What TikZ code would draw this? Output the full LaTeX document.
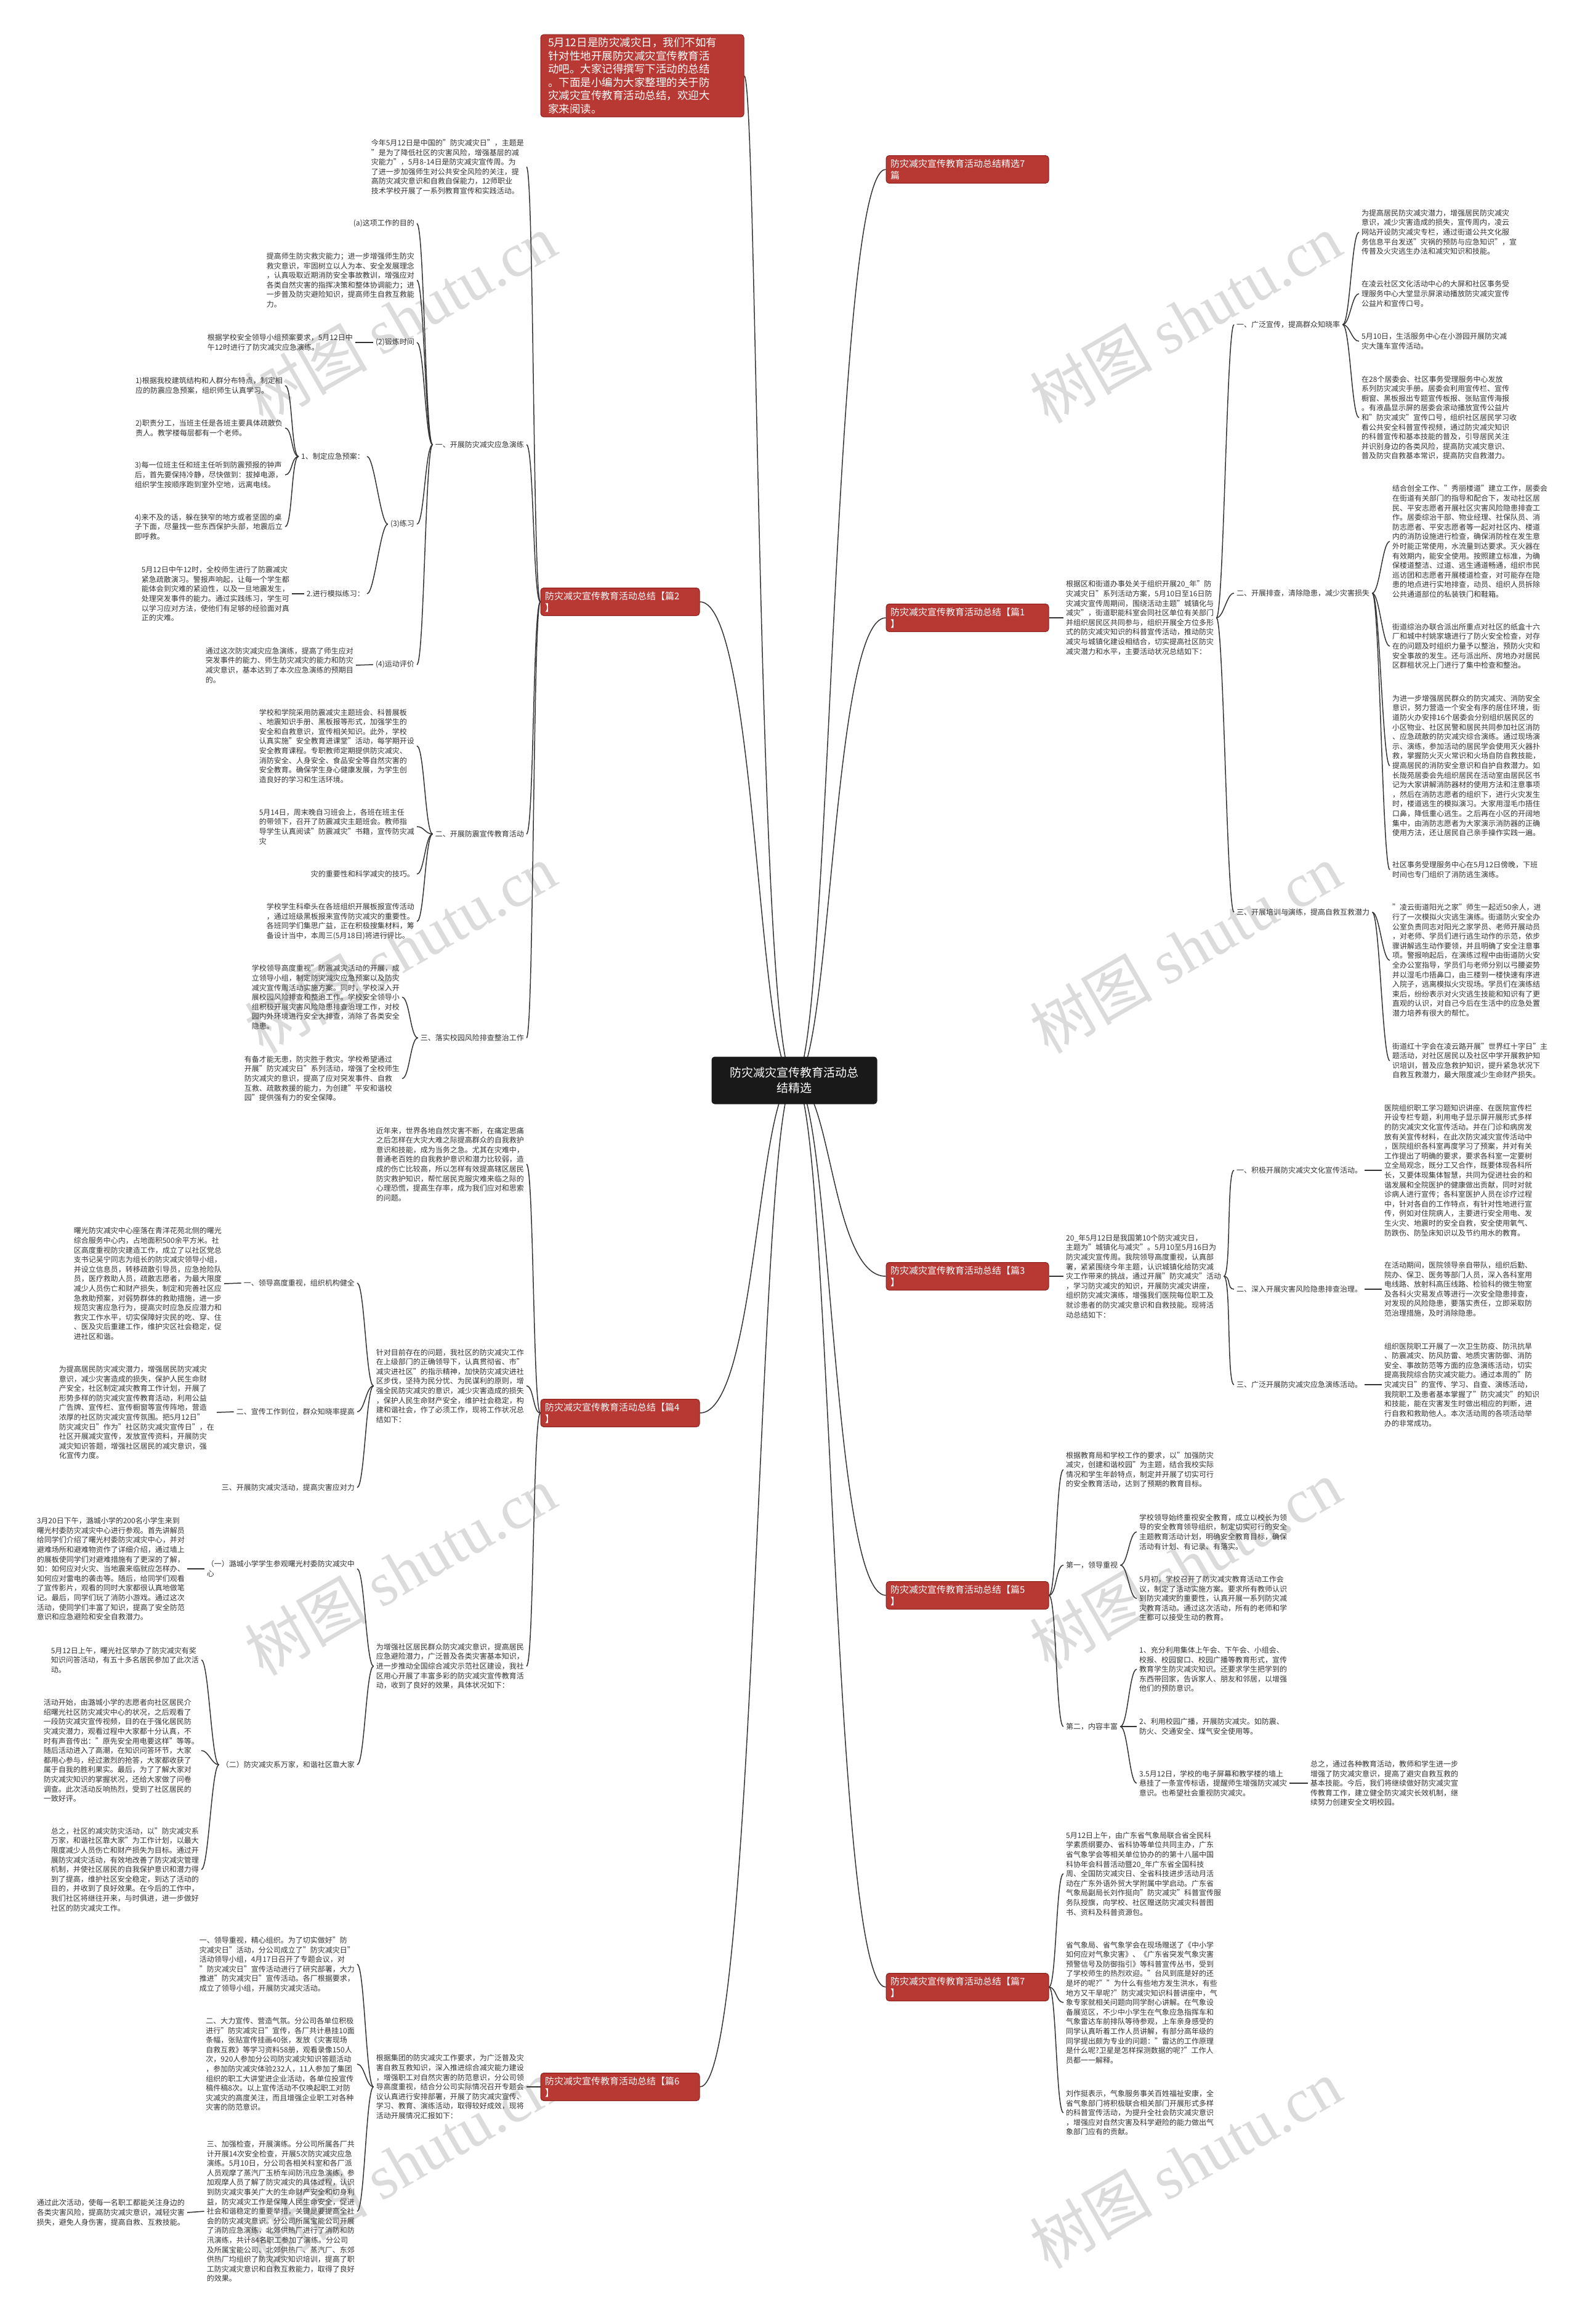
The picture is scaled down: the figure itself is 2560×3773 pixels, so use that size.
\documentclass[tikz,border=0pt]{standalone}
\usepackage{fontspec}
\setmainfont{Noto Sans CJK SC}
\newfontfamily\wmlatin{Liberation Serif}
\usepackage{tikz}
\usetikzlibrary{calc,backgrounds}
\definecolor{inkgray}{rgb}{0.2,0.2,0.2}
\definecolor{topicred}{rgb}{0.72,0.22,0.20}
\definecolor{topicedge}{rgb}{0.55,0.12,0.10}
\definecolor{hubblack}{rgb}{0.1,0.1,0.1}
\definecolor{wmgray}{rgb}{0.86,0.86,0.86}
\tikzset{
  txt/.style   ={font=\fontsize{12}{15.6}\selectfont, text=inkgray, align=left,
                 inner xsep=4pt, inner ysep=1pt},
  lft/.style   ={txt, anchor=east},
  rgt/.style   ={txt, anchor=west},
  branch/.style={rectangle, rounded corners=5pt, draw=topicedge, line width=1pt,
                 fill=topicred, text=white, align=left,
                 font=\fontsize{15}{19}\selectfont, inner xsep=7pt, inner ysep=6pt},
  hub/.style   ={rectangle, rounded corners=5pt, fill=hubblack, text=white,
                 align=center, font=\fontsize{19}{25}\selectfont,
                 minimum width=269pt, minimum height=77pt},
  wmark/.style ={text=wmgray, font=\fontsize{100}{100}\selectfont, rotate=30},
  link/.style  ={draw=inkgray, line width=1.5pt},
  stemL/.style ={to path={.. controls +(-12,0) and +(12,0) .. (\tikztotarget)}},
  stemR/.style ={to path={.. controls +(12,0) and +(-12,0) .. (\tikztotarget)}},
  hubL/.style  ={to path={.. controls ($(\tikztostart)+(-60,0)$) and ($(\tikztostart|-\tikztotarget)+(-60,0)$) .. (\tikztotarget)}},
  hubR/.style  ={to path={.. controls ($(\tikztostart)+(60,0)$) and ($(\tikztostart|-\tikztotarget)+(60,0)$) .. (\tikztotarget)}},
}

\begin{document}
\begin{tikzpicture}[x=1pt, y=-1pt]
  \useasboundingbox (0,0) rectangle (2560,3773);

  % centre and main topics
  \node[hub] (hub) at (1290,1754) {防灾减灾宣传教育活动总\\结精选};
  \node[branch, text width=306pt, inner xsep=12pt, inner ysep=5pt,
        font=\fontsize{17.5}{21.5}\selectfont] (intro) at (1043,123)
    {5月12日是防灾减灾日，我们不如有\\针对性地开展防灾减灾宣传教育活\\动吧。大家记得撰写下活动的总结\\。下面是小编为大家整理的关于防\\灾减灾宣传教育活动总结，欢迎大\\家来阅读。};
  \node[branch, text width=244pt] (p2) at (1007,977)  {防灾减灾宣传教育活动总结【篇2\\】};
  \node[branch, text width=244pt] (p4) at (1007,2294) {防灾减灾宣传教育活动总结【篇4\\】};
  \node[branch, text width=244pt] (p6) at (1007,3388) {防灾减灾宣传教育活动总结【篇6\\】};
  \node[branch, text width=250pt] (p0) at (1571,275)  {防灾减灾宣传教育活动总结精选7\\篇};
  \node[branch, text width=250pt] (p1) at (1571,1003) {防灾减灾宣传教育活动总结【篇1\\】};
  \node[branch, text width=250pt] (p3) at (1571,2072) {防灾减灾宣传教育活动总结【篇3\\】};
  \node[branch, text width=250pt] (p5) at (1571,2590) {防灾减灾宣传教育活动总结【篇5\\】};
  \node[branch, text width=250pt] (p7) at (1571,3226) {防灾减灾宣传教育活动总结【篇7\\】};

  % ---- 篇2
  \node[lft] (k2a) at (855,271) {今年5月12日是中国的"防灾减灾日"，主题是\\"是为了降低社区的灾害风险，增强基层的减\\灾能力"，5月8-14日是防灾减灾宣传周。为\\了进一步加强师生对公共安全风险的关注，提\\高防灾减灾意识和自救自保能力，12师职业\\技术学校开展了一系列教育宣传和实践活动。};
  \node[lft] (k2one)   at (855,722)  {一、开展防灾减灾应急演练};
  \node[lft] (k2two)   at (855,1354) {二、开展防震宣传教育活动};
  \node[lft] (k2three) at (855,1685) {三、落实校园风险排查整治工作};
  \node[lft] (aim)       at (677,363) {(a)这项工作的目的};
  \node[lft] (aimtxt)    at (677,455) {提高师生防灾救灾能力；进一步增强师生防灾\\救灾意识，牢固树立以人为本、安全发展理念\\，认真吸取近期消防安全事故教训，增强应对\\各类自然灾害的指挥决策和整体协调能力；进\\一步普及防灾避险知识，提高师生自救互救能\\力。};
  \node[lft] (drilltime) at (677,556) {(2)锻炼时间};
  \node[lft] (drilltimetxt) at (577,556) {根据学校安全领导小组预案要求，5月12日中\\午12时进行了防灾减灾应急演练。};
  \node[lft] (practice)  at (677,851) {(3)练习};
  \node[lft] (review)    at (677,1079) {(4)运动评价};
  \node[lft] (reviewtxt) at (578,1080) {通过这次防灾减灾应急演练，提高了师生应对\\突发事件的能力、师生防灾减灾的能力和防灾\\减灾意识，基本达到了本次应急演练的预期目\\的。};
  \node[lft] (plan) at (596,741) {1、制定应急预案：};
  \node[lft] (sim)  at (596,964) {2.进行模拟练习：};
  \node[lft] (plan1) at (463,626) {1)根据我校建筑结构和人群分布特点，制定相\\应的防震应急预案，组织师生认真学习。};
  \node[lft] (plan2) at (463,695) {2)职责分工，当班主任是各班主要具体疏散负\\责人。教学楼每层都有一个老师。};
  \node[lft] (plan3) at (463,771) {3)每一位班主任和班主任听到防震预报的钟声\\后，首先要保持冷静，尽快做到：拔掉电源，\\组织学生按顺序跑到室外空地，远离电线。};
  \node[lft] (plan4) at (463,855) {4)来不及的话，躲在狭窄的地方或者坚固的桌\\子下面，尽量找一些东西保护头部，地震后立\\即呼救。};
  \node[lft] (simtxt) at (474,964) {5月12日中午12时，全校师生进行了防震减灾\\紧急疏散演习。警报声响起，让每一个学生都\\能体会到灾难的紧迫性，以及一旦地震发生，\\处理突发事件的能力。通过实践练习，学生可\\以学习应对方法，使他们有足够的经验面对真\\正的灾难。};
  \node[lft] (prop1) at (677,1211) {学校和学院采用防震减灾主题班会、科普展板\\、地震知识手册、黑板报等形式，加强学生的\\安全和自救意识，宣传相关知识。此外，学校\\认真实施"安全教育进课堂"活动，每学期开设\\安全教育课程。专职教师定期提供防灾减灾、\\消防安全、人身安全、食品安全等自然灾害的\\安全教育。确保学生身心健康发展，为学生创\\造良好的学习和生活环境。};
  \node[lft] (prop2) at (677,1342) {5月14日，周末晚自习班会上，各班在班主任\\的带领下，召开了防震减灾主题班会。教师指\\导学生认真阅读"防震减灾"书籍，宣传防灾减\\灾};
  \node[lft] (prop3) at (677,1419) {灾的重要性和科学减灾的技巧。};
  \node[lft] (prop4) at (677,1496) {学校学生科牵头在各班组织开展板报宣传活动\\，通过班级黑板报来宣传防灾减灾的重要性。\\各班同学们集思广益，正在积极搜集材料，筹\\备设计当中，本周三(5月18日)将进行评比。};
  \node[lft] (risk1) at (653,1619) {学校领导高度重视"防震减灾活动的开展，成\\立领导小组，制定防灾减灾应急预案以及防灾\\减灾宣传周活动实施方案。同时，学校深入开\\展校园风险排查和整治工作。学校安全领导小\\组积极开展灾害风险隐患排查治理工作，对校\\园内外环境进行安全大排查，消除了各类安全\\隐患。};
  \node[lft] (risk2) at (653,1751) {有备才能无患，防灾胜于救灾。学校希望通过\\开展"防灾减灾日"系列活动，增强了全校师生\\防灾减灾的意识，提高了应对突发事件、自救\\互救、疏散救援的能力，为创建"平安和谐校\\园"提供强有力的安全保障。};

  % ---- 篇4
  \node[lft] (k4a) at (855,1890) {近年来，世界各地自然灾害不断，在痛定思痛\\之后怎样在大灾大难之际提高群众的自我救护\\意识和技能，成为当务之急。尤其在灾难中，\\普通老百姓的自我救护意识和潜力比较弱，造\\成的伤亡比较高，所以怎样有效提高辖区居民\\防灾救护知识，帮忙居民克服灾难来临之际的\\心理恐慌，提高生存率，成为我们应对和思索\\的问题。};
  \node[lft] (k4b) at (855,2250) {针对目前存在的问题，我社区的防灾减灾工作\\在上级部门的正确领导下，认真贯彻省、市"\\减灾进社区"的指示精神，加快防灾减灾进社\\区步伐，坚持为民分忧、为民谋利的原则，增\\强全民防灾减灾的意识，减少灾害造成的损失\\，保护人民生命财产安全，维护社会稳定，构\\建和谐社会，作了必须工作，现将工作状况总\\结如下：};
  \node[lft] (k4c) at (855,2705) {为增强社区居民群众防灾减灾意识，提高居民\\应急避险潜力，广泛普及各类灾害基本知识，\\进一步推动全国综合减灾示范社区建设，我社\\区用心开展了丰富多彩的防灾减灾宣传教育活\\动，收到了良好的效果，具体状况如下：};
  \node[lft] (lead)  at (580,2083) {一、领导高度重视，组织机构健全};
  \node[lft] (leadtxt) at (364,2084) {曙光防灾减灾中心座落在青洋花苑北侧的曙光\\综合服务中心内，占地面积500余平方米。社\\区高度重视防灾建造工作，成立了以社区党总\\支书记吴宁同志为组长的防灾减灾领导小组，\\并设立信息员，转移疏散引导员，应急抢险队\\员，医疗救助人员，疏散志愿者，为最大限度\\减少人员伤亡和财产损失，制定和完善社区应\\急救助预案，对弱势群体的救助措施，进一步\\规范灾害应急行为，提高灾时应急反应潜力和\\救灾工作水平，切实保障好灾民的吃、穿、住\\、医及灾后重建工作，维护灾区社会稳定，促\\进社区和谐。};
  \node[lft] (promo) at (580,2292) {二、宣传工作到位，群众知晓率提高};
  \node[lft] (promotxt) at (352,2293) {为提高居民防灾减灾潜力，增强居民防灾减灾\\意识，减少灾害造成的损失，保护人民生命财\\产安全，社区制定减灾教育工作计划，开展了\\形势多样的防灾减灾宣传教育活动，利用公益\\广告牌、宣传栏、宣传橱窗等宣传阵地，营造\\浓厚的社区防灾减灾宣传氛围。把5月12日"\\防灾减灾日"作为"社区防灾减灾宣传日"，在\\社区开展减灾宣传，发放宣传资料，开展防灾\\减灾知识答题，增强社区居民的减灾意识，强\\化宣传力度。};
  \node[lft] (act)   at (580,2415) {三、开展防灾减灾活动，提高灾害应对力};
  \node[lft] (visit) at (580,2547) {（一）潞城小学学生参观曙光村委防灾减灾中\\心};
  \node[lft] (visittxt) at (304,2547) {3月20日下午，潞城小学的200名小学生来到\\曙光村委防灾减灾中心进行参观。首先讲解员\\给同学们介绍了曙光村委防灾减灾中心，并对\\避难场所和避难物资作了详细介绍，通过墙上\\的展板使同学们对避难措施有了更深的了解，\\如：如何应对火灾、当地震来临就应怎样办、\\如何应对雷电的袭击等。随后，给同学们观看\\了宣传影片，观看的同时大家都很认真地做笔\\记。最后，同学们玩了消防小游戏。通过这次\\活动，使同学们丰富了知识，提高了安全防范\\意识和应急避险和安全自救潜力。};
  \node[lft] (family) at (580,2865) {（二）防灾减灾系万家，和谐社区靠大家};
  \node[lft] (quiz)    at (327,2695) {5月12日上午，曙光社区举办了防灾减灾有奖\\知识问答活动，有五十多名居民参加了此次活\\动。};
  \node[lft] (quizrun) at (327,2842) {活动开始，由潞城小学的志愿者向社区居民介\\绍曙光社区防灾减灾中心的状况，之后观看了\\一段防灾减灾宣传视频，目的在于强化居民防\\灾减灾潜力，观看过程中大家都十分认真，不\\时有声音传出："原先安全用电要这样"等等。\\随后活动进入了高潮，在知识问答环节，大家\\都用心参与，经过激烈的抢答，大家都收获了\\属于自我的胜利果实。最后，为了了解大家对\\防灾减灾知识的掌握状况，还给大家做了问卷\\调查。此次活动反响热烈，受到了社区居民的\\一致好评。};
  \node[lft] (sumup)   at (327,3035) {总之，社区的减灾防灾活动，以"防灾减灾系\\万家，和谐社区靠大家"为工作计划，以最大\\限度减少人员伤亡和财产损失为目标。通过开\\展防灾减灾活动，有效地改善了防灾减灾管理\\机制，并使社区居民的自我保护意识和潜力得\\到了提高，维护社区安全稳定，到达了活动的\\目的，并收到了良好效果。在今后的工作中，\\我们社区将继往开来，与时俱进，进一步做好\\社区的防灾减灾工作。};

  % ---- 篇6
  \node[lft] (k6a) at (855,3388) {根据集团的防灾减灾工作要求，为广泛普及灾\\害自救互救知识，深入推进综合减灾能力建设\\，增强职工对自然灾害的防范意识，分公司领\\导高度重视，结合分公司实际情况召开专题会\\议认真进行安排部署，开展了防灾减灾宣传、\\学习、教育、演练活动，取得较好成效，现将\\活动开展情况汇报如下：};
  \node[lft] (org) at (580,3189) {一、领导重视，精心组织。为了切实做好"防\\灾减灾日"活动，分公司成立了"防灾减灾日"\\活动领导小组，4月17日召开了专题会议，对\\"防灾减灾日"宣传活动进行了研究部署，大力\\推进"防灾减灾日"宣传活动。各厂根据要求，\\成立了领导小组，开展防灾减灾活动。};
  \node[lft] (pub) at (580,3351) {二、大力宣传、营造气氛。分公司各单位积极\\进行"防灾减灾日"宣传，各厂共计悬挂10面\\条幅，张贴宣传挂画40张，发放《灾害现场\\自救互救》等学习资料58册，观看录像150人\\次，920人参加分公司防灾减灾知识答题活动\\，参加防灾减灾体验232人，11人参加了集团\\组织的职工大讲堂进企业活动，各单位投宣传\\稿件稿8次。以上宣传活动不仅唤起职工对防\\灾减灾的高度关注，而且增强企业职工对各种\\灾害的防范意识。};
  \node[lft] (check) at (580,3590) {三、加强检查，开展演练。分公司所属各厂共\\计开展14次安全检查，开展5次防灾减灾应急\\演练。5月10日，分公司各相关科室和各厂派\\人员观摩了蒸汽厂玉桥车间防汛应急演练，参\\加观摩人员了解了防灾减灾的具体过程，认识\\到防灾减灾事关广大的生命财产安全和切身利\\益，防灾减灾工作是保障人民生命安全，促进\\社会和谐稳定的重要举措，关键是要提高全社\\会的防灾减灾意识。分公司所属宝能公司开展\\了消防应急演练，北郊供热厂进行了消防和防\\汛演练，共计84名职工参加了演练。分公司\\及所属宝能公司、北郊供热厂、蒸汽厂、东郊\\供热厂均组织了防灾减灾知识培训，提高了职\\工防灾减灾意识和自救互救能力，取得了良好\\的效果。};
  \node[lft] (checktxt) at (304,3592) {通过此次活动，使每一名职工都能关注身边的\\各类灾害风险，提高防灾减灾意识，减轻灾害\\损失，避免人身伤害，提高自救、互救技能。};

  % ---- 篇1
  \node[rgt] (k1a) at (1727,1003) {根据区和街道办事处关于组织开展20\_年"防\\灾减灾日"系列活动方案，5月10日至16日防\\灾减灾宣传周期间，围绕活动主题"城镇化与\\减灾"，街道职能科室会同社区单位有关部门\\并组织居民区共同参与，组织开展全方位多形\\式的防灾减灾知识的科普宣传活动，推动防灾\\减灾与城镇化建设相结合，切实提高社区防灾\\减灾潜力和水平，主要活动状况总结如下：};
  \node[rgt] (wide)  at (2004,527)  {一、广泛宣传，提高群众知晓率};
  \node[rgt] (scan)  at (2004,963)  {二、开展排查，清除隐患，减少灾害损失};
  \node[rgt] (train) at (2004,1481) {三、开展培训与演练，提高自救互救潜力};
  \node[rgt] (wide1) at (2207,377) {为提高居民防灾减灾潜力，增强居民防灾减灾\\意识，减少灾害造成的损失，宣传周内，凌云\\网站开设防灾减灾专栏，通过街道公共文化服\\务信息平台发送"灾祸的预防与应急知识"，宣\\传普及火灾逃生办法和减灾知识和技能。};
  \node[rgt] (wide2) at (2207,477) {在凌云社区文化活动中心的大屏和社区事务受\\理服务中心大堂显示屏滚动播放防灾减灾宣传\\公益片和宣传口号。};
  \node[rgt] (wide3) at (2207,554) {5月10日，生活服务中心在小游园开展防灾减\\灾大篷车宣传活动。};
  \node[rgt] (wide4) at (2207,678) {在28个居委会、社区事务受理服务中心发放\\系列防灾减灾手册。居委会利用宣传栏、宣传\\橱窗、黑板报出专题宣传板报、张贴宣传海报\\。有液晶显示屏的居委会滚动播放宣传公益片\\和"防灾减灾"宣传口号，组织社区居民学习收\\看公共安全科普宣传视频，通过防灾减灾知识\\的科普宣传和基本技能的普及，引导居民关注\\并识别身边的各类风险，提高防灾减灾意识、\\普及防灾自救基本常识，提高防灾自救潜力。};
  \node[rgt] (scan1) at (2257,879) {结合创全工作、"秀丽楼道"建立工作，居委会\\在街道有关部门的指导和配合下，发动社区居\\民、平安志愿者开展社区灾害风险隐患排查工\\作。居委综治干部、物业经理、社保队员、消\\防志愿者、平安志愿者等一起对社区内、楼道\\内的消防设施进行检查，确保消防栓在发生意\\外时能正常使用，水流量到达要求。灭火器在\\有效期内，能安全使用。按照建立标准，为确\\保楼道整洁、过道、逃生通道畅通，组织市民\\巡访团和志愿者开展楼道检查，对可能存在隐\\患的地点进行实地排查，动员、组织人员拆除\\公共通道部位的私装铁门和鞋箱。};
  \node[rgt] (scan2) at (2257,1049) {街道综治办联合派出所重点对社区的纸盒十六\\厂和城中村姚家塘进行了防火安全检查，对存\\在的问题及时组织力量予以整治，预防火灾和\\安全事故的发生。还与派出所、房地办对居民\\区群租状况上门进行了集中检查和整治。};
  \node[rgt] (scan3) at (2257,1243) {为进一步增强居民群众的防灾减灾、消防安全\\意识，努力营造一个安全有序的居住环境，街\\道防火办安排16个居委会分别组织居民区的\\小区物业、社区民警和居民共同参加社区消防\\、应急疏散的防灾减灾综合演练。通过现场演\\示、演练，参加活动的居民学会使用灭火器扑\\救，掌握防火灭火常识和火场自防自救技能，\\提高居民的消防安全意识和自护自救潜力。如\\长陇苑居委会先组织居民在活动室由居民区书\\记为大家讲解消防器材的使用方法和注意事项\\，然后在消防志愿者的组织下，进行火灾发生\\时，楼道逃生的模拟演习。大家用湿毛巾捂住\\口鼻，降低重心逃生。之后再在小区的开阔地\\集中，由消防志愿者为大家演示消防器的正确\\使用方法，还让居民自己亲手操作实践一遍。};
  \node[rgt] (scan4) at (2257,1412) {社区事务受理服务中心在5月12日傍晚，下班\\时间也专门组织了消防逃生演练。};
  \node[rgt] (train1) at (2257,1559) {"凌云街道阳光之家"师生一起近50余人，进\\行了一次模拟火灾逃生演练。街道防火安全办\\公室负责同志对阳光之家学员、老师开展动员\\，对老师、学员们进行逃生动作的示范，依步\\骤讲解逃生动作要领，并且明确了安全注意事\\项。警报响起后，在演练过程中由街道防火安\\全办公室指导，学员们与老师分别以弓腰姿势\\并以湿毛巾捂鼻口，由三楼到一楼快速有序进\\入院子，逃离模拟火灾现场。学员们在演练结\\束后，纷纷表示对火灾逃生技能和知识有了更\\直观的认识，对自己今后在生活中的应急处置\\潜力培养有很大的帮忙。};
  \node[rgt] (train2) at (2257,1722) {街道红十字会在凌云路开展"世界红十字日"主\\题活动，对社区居民以及社区中学开展救护知\\识培训，普及应急救护知识，提升紧急状况下\\自救互救潜力，最大限度减少生命财产损失。};

  % ---- 篇3
  \node[rgt] (k3a) at (1727,2072) {20\_年5月12日是我国第10个防灾减灾日，\\主题为"城镇化与减灾"。5月10至5月16日为\\防灾减灾宣传周。我院领导高度重视，认真部\\署，紧紧围绕今年主题，认识城镇化给防灾减\\灾工作带来的挑战，通过开展"防灾减灾"活动\\，学习防灾减灾的知识，开展防灾减灾讲座，\\组织防灾减灾演练，增强我们医院每位职工及\\就诊患者的防灾减灾意识和自救技能。现将活\\动总结如下：};
  \node[rgt] (cult)   at (2004,1900) {一、积极开展防灾减灾文化宣传活动。};
  \node[rgt] (culttxt) at (2244,1900) {医院组织职工学习题知识讲座、在医院宣传栏\\开设专栏专题，利用电子显示屏开展形式多样\\的防灾减灾文化宣传活动。并在门诊和病房发\\放有关宣传材料，在此次防灾减灾宣传活动中\\，医院组织各科室再度学习了预案，并对有关\\工作提出了明确的要求，要求各科室一定要树\\立全局观念，既分工又合作，既要体现各科所\\长，又要体现集体智慧，共同为促进社会的和\\谐发展和全院医护的健康做出贡献，同时对就\\诊病人进行宣传；各科室医护人员在诊疗过程\\中，针对各自的工作特点，有针对性地进行宣\\传，例如对住院病人，主要进行安全用电、发\\生火灾、地震时的安全自救，安全使用氧气、\\防跌伤、防坠床知识以及节约用水的教育。};
  \node[rgt] (hazard) at (2004,2093) {二、深入开展灾害风险隐患排查治理。};
  \node[rgt] (hazardtxt) at (2244,2093) {在活动期间，医院领导亲自带队，组织后勤、\\院办、保卫、医务等部门人员，深入各科室用\\电线路、放射科高压线路、检验科的微生物室\\及各科火灾易发点等进行一次安全隐患排查，\\对发现的风险隐患，要落实责任，立即采取防\\范治理措施，及时消除隐患。};
  \node[rgt] (drill)  at (2004,2248) {三、广泛开展防灾减灾应急演练活动。};
  \node[rgt] (drilltxt) at (2244,2248) {组织医院职工开展了一次卫生防疫、防汛抗旱\\、防震减灾、防风防雷、地质灾害防御、消防\\安全、事故防范等方面的应急演练活动，切实\\提高我院综合防灾减灾能力。通过本周的"防\\灾减灾日"的宣传、学习、自查、演练活动，\\我院职工及患者基本掌握了"防灾减灾"的知识\\和技能，能在灾害发生时做出相应的判断，进\\行自救和救助他人。本次活动周的各项活动举\\办的非常成功。};

  % ---- 篇5
  \node[rgt] (k5a) at (1727,2386) {根据教育局和学校工作的要求，以"加强防灾\\减灾，创建和谐校园"为主题，结合我校实际\\情况和学生年龄特点，制定并开展了切实可行\\的安全教育活动，达到了预期的教育目标。};
  \node[rgt] (first)  at (1727,2541) {第一，领导重视};
  \node[rgt] (first1) at (1846,2487) {学校领导始终重视安全教育，成立以校长为领\\导的安全教育领导组织，制定切实可行的安全\\主题教育活动计划，明确安全教育目标，确保\\活动有计划、有记录、有落实。};
  \node[rgt] (first2) at (1846,2595) {5月初，学校召开了防灾减灾教育活动工作会\\议，制定了活动实施方案。要求所有教师认识\\到防灾减灾的重要性，认真开展一系列防灾减\\灾教育活动。通过这次活动，所有的老师和学\\生都可以接受生动的教育。};
  \node[rgt] (second)  at (1727,2803) {第二，内容丰富};
  \node[rgt] (second1) at (1846,2710) {1、充分利用集体上午会、下午会、小组会、\\校报、校园窗口、校园广播等教育形式，宣传\\教育学生防灾减灾知识。还要求学生把学到的\\东西带回家，告诉家人、朋友和邻居，以增强\\他们的预防意识。};
  \node[rgt] (second2) at (1846,2803) {2、利用校园广播，开展防灾减灾。如防震、\\防火、交通安全、煤气安全使用等。};
  \node[rgt] (second3) at (1846,2895) {3.5月12日，学校的电子屏幕和教学楼的墙上\\悬挂了一条宣传标语，提醒师生增强防灾减灾\\意识。也希望社会重视防灾减灾。};
  \node[rgt] (secondsum) at (2124,2895) {总之，通过各种教育活动，教师和学生进一步\\增强了防灾减灾意识，提高了避灾自救互救的\\基本技能。今后，我们将继续做好防灾减灾宣\\传教育工作，建立健全防灾减灾长效机制，继\\续努力创建安全文明校园。};

  % ---- 篇7
  \node[rgt] (k7a) at (1727,3042) {5月12日上午，由广东省气象局联合省全民科\\学素质纲要办、省科协等单位共同主办，广东\\省气象学会等相关单位协办的的第十八届中国\\科协年会科普活动暨20\_年广东省全国科技\\周、全国防灾减灾日、全省科技进步活动月活\\动在广东外语外贸大学附属中学启动。广东省\\气象局副局长刘作挺向"防灾减灾"科普宣传服\\务队授旗，向学校、社区赠送防灾减灾科普图\\书、资料及科普资源包。};
  \node[rgt] (k7b) at (1727,3251) {省气象局、省气象学会在现场赠送了《中小学\\如何应对气象灾害》、《广东省突发气象灾害\\预警信号及防御指引》等科普宣传丛书，受到\\了学校师生的热烈欢迎。"台风到底是好的还\\是坏的呢?""为什么有些地方发生洪水，有些\\地方又干旱呢?"防灾减灾知识科普讲座中，气\\象专家就相关问题向同学耐心讲解。在气象设\\备展览区，不少中小学生在气象应急指挥车和\\气象雷达车前排队等待参观，上车亲身感受的\\同学认真听着工作人员讲解，有部分高年级的\\同学提出颇为专业的问题："雷达的工作原理\\是什么呢?卫星是怎样探测数据的呢?"工作人\\员都一一解释。};
  \node[rgt] (k7c) at (1727,3430) {刘作挺表示，气象服务事关百姓福祉安康，全\\省气象部门将积极联合相关部门开展形式多样\\的科普宣传活动，为提升全社会防灾减灾意识\\，增强应对自然灾害及科学避险的能力做出气\\象部门应有的贡献。};

  % connectors
  \foreach \a/\b in {p2/k2a, p2/k2one, p2/k2two, p2/k2three,
                     k2one/aim, k2one/aimtxt, k2one/drilltime, k2one/practice, k2one/review,
                     practice/plan, practice/sim,
                     plan/plan1, plan/plan2, plan/plan3, plan/plan4,
                     k2two/prop1, k2two/prop2, k2two/prop3, k2two/prop4,
                     k2three/risk1, k2three/risk2,
                     p4/k4a, p4/k4b, p4/k4c,
                     k4b/lead, k4b/promo, k4b/act, k4c/visit, k4c/family,
                     family/quiz, family/quizrun, family/sumup,
                     k6a/org, k6a/pub, k6a/check}
    \draw[link] (\a.west) to[stemL] (\b.east);
  \foreach \a/\b in {drilltime/drilltimetxt, sim/simtxt, review/reviewtxt,
                     lead/leadtxt, promo/promotxt, visit/visittxt,
                     p6/k6a, check/checktxt}
    \draw[link] (\a.west) -- (\b.east);
  \foreach \a/\b in {k1a/wide, k1a/scan, k1a/train,
                     wide/wide1, wide/wide2, wide/wide3, wide/wide4,
                     scan/scan1, scan/scan2, scan/scan3, scan/scan4,
                     train/train1, train/train2,
                     k3a/cult, k3a/hazard, k3a/drill,
                     p5/k5a, p5/first, p5/second,
                     first/first1, first/first2,
                     second/second1, second/second2, second/second3,
                     p7/k7a, p7/k7b, p7/k7c}
    \draw[link] (\a.east) to[stemR] (\b.west);
  \foreach \a/\b in {p1/k1a, p3/k3a, cult/culttxt, hazard/hazardtxt,
                     drill/drilltxt, second3/secondsum}
    \draw[link] (\a.east) -- (\b.west);

  \begin{scope}[on background layer]
    \fill[white] (0,0) rectangle (2560,3773);
    \foreach \x/\y in {650/517, 1925/517, 650/1540, 1925/1540,
                       650/2550, 1925/2540, 650/3513, 1925/3513}
      \node[wmark] at (\x,\y) {树图 {\wmlatin shutu.cn}};
    \foreach \b in {intro, p2, p4, p6}
      \draw[link] (hub.center) to[hubL] (\b.east);
    \foreach \b in {p0, p1, p3, p5, p7}
      \draw[link] (hub.center) to[hubR] (\b.west);
  \end{scope}
\end{tikzpicture}
\end{document}
